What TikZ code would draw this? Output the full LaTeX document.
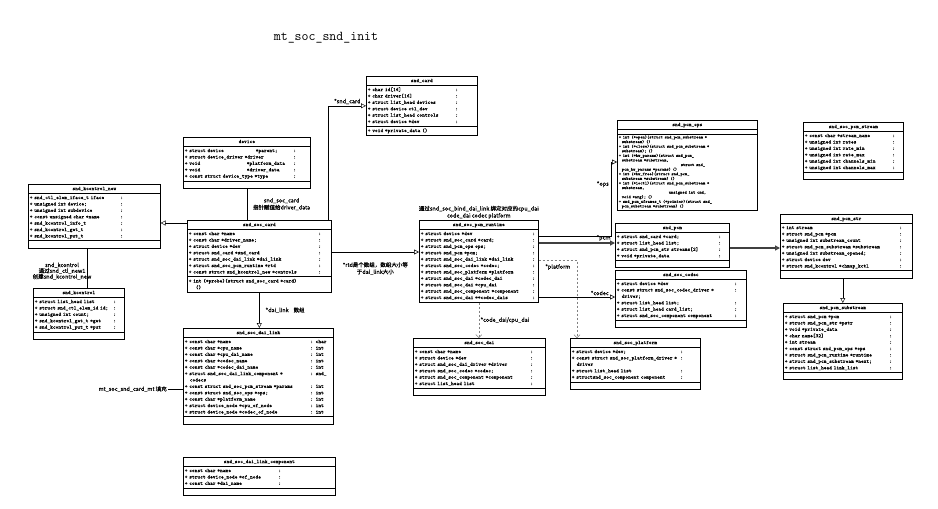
\documentclass[tikz,border=0pt]{standalone}
\usepackage{fontspec}
\usetikzlibrary{positioning,shapes.multipart,arrows.meta,calc}
\newfontfamily\cjk{Noto Sans CJK SC}[FakeBold=0.4]
\newfontfamily\fldtt{lmmono10-regular.otf}[FakeBold=1.2]
\newlength\fldw
\newcommand\fldfont{\fldtt\fontsize{5.2}{6.4}\selectfont}
\newcommand\opsfont{\fldtt\fontsize{4.3}{4.6}\selectfont}
\newcommand\notefont{\cjk\fontsize{5.5}{7}\selectfont}
\newcommand\ttl[1]{\makebox[\linewidth]{\strut#1}\par}
\newcommand\fld[2]{\makebox[\fldw][l]{\strut+ #1}: #2\par}
\newcommand\cont[1]{\strut\hspace*{5pt}#1\par}
\newcommand\op[1]{\strut#1\par}
\newcommand\emp{\rule{0pt}{4.5pt}}
\tikzset{
  cls/.style 2 args={draw, line width=0.6pt, fill=white, rectangle split,
    rectangle split parts=3, anchor=north west, inner xsep=1.5pt,
    inner ysep=1pt, font=\fldfont, text width=#1, align=left,
    /utils/exec={\setlength\fldw{#2}}},
  link/.style={line width=0.5pt},
  tri/.style={link, -{Triangle[open, length=5pt, width=5pt]}},
  barb/.style={link, gray, dash pattern=on 2pt off 2pt, -{Straight Barb[length=3pt, width=6pt]}},
  heavy/.style={line width=1.3pt, black!75},
  note/.style={font=\notefont, text=black, inner sep=0pt, align=center},
}
\begin{document}
\catcode`\_=12
\begin{tikzpicture}[x=1pt, y=-1pt]
  \fill[white] (0,0) rectangle (938,509);
  \useasboundingbox (0,0) rectangle (938,509);

  \node[font=\ttfamily\fontsize{13.5}{14}\selectfont] (title) at (326,38) {mt_soc_snd_init};

  % ---------- classes ----------
  \node[cls={108pt}{87.5pt}] (sndcard) at (366,76) {\ttl{snd_card}
    \nodepart{two}
    \fld{char id[16]}{}
    \fld{char driver[16]}{}
    \fld{struct list_head devices}{}
    \fld{struct device ctl_dev}{}
    \fld{struct list_head controls}{}
    \fld{struct device *dev}{}
    \nodepart{three}
    \op{+ void *private_data ()}};

  \node[cls={124pt}{108.5pt}] (device) at (183,137) {\ttl{device}
    \nodepart{two}
    \fld{\makebox[66.5pt][l]{struct device}*parent;}{}
    \fld{struct device_driver *driver}{}
    \fld{\makebox[57.5pt][l]{void}*platform_data}{}
    \fld{\makebox[57.5pt][l]{void}*driver_data}{}
    \fld{const struct device_type *type}{}
    \nodepart{three}\emp};

  \node[cls={141pt}{129.5pt}] (soccard) at (187,220) {\ttl{snd_soc_card}
    \nodepart{two}
    \fld{const char *name}{}
    \fld{const char *driver_name;}{}
    \fld{struct device *dev}{}
    \fld{struct snd_card *snd_card}{}
    \fld{struct snd_soc_dai_link *dai_link}{}
    \fld{struct snd_soc_pcm_runtime *rtd}{}
    \fld{const struct snd_kcontrol_new *controls}{}
    \nodepart{three}
    \op{+ int (*probe)(struct snd_soc_card *card)}
    \op{\hspace*{7pt}()}};

  \node[cls={129pt}{90.5pt}] (ctlnew) at (28,184) {\ttl{snd_kcontrol_new}
    \nodepart{two}
    \fld{snd_ctl_elem_iface_t iface}{}
    \fld{unsigned int device;}{}
    \fld{unsigned int subdevice}{}
    \fld{const unsigned char *name}{}
    \fld{snd_kcontrol_info_t}{}
    \fld{snd_kcontrol_get_t}{}
    \fld{snd_kcontrol_put_t}{}
    \nodepart{three}\emp};

  \node[cls={88pt}{78.5pt}] (kctl) at (33,288) {\ttl{snd_kcontrol}
    \nodepart{two}
    \fld{struct list_head list}{}
    \fld{struct snd_ctl_elem_id id;}{}
    \fld{unsigned int count;}{}
    \fld{snd_kcontrol_get_t *get}{}
    \fld{snd_kcontrol_put_t *put}{}
    \nodepart{three}\emp};

  \node[cls={147pt}{125.5pt}] (dailink) at (183,328) {\ttl{snd_soc_dai_link}
    \nodepart{two}
    \fld{const char *name}{char}
    \fld{const char *cpu_name}{int}
    \fld{const char *cpu_dai_name}{int}
    \fld{const char *codec_name}{int}
    \fld{const char *codec_dai_name}{int}
    \fld{struct snd_soc_dai_link_component *}{snd_}
    \cont{codecs}
    \fld{const struct snd_soc_pcm_stream *params}{int}
    \fld{const struct snd_soc_ops *ops;}{int}
    \fld{const char *platform_name}{int}
    \fld{struct device_node *cpu_of_node}{int}
    \fld{struct device_node *codec_of_node}{int}
    \nodepart{three}\emp};

  \node[cls={149pt}{93.5pt}] (linkcomp) at (183,457) {\ttl{snd_soc_dai_link_component}
    \nodepart{two}
    \fld{const char *name}{}
    \fld{struct device_node *of_node}{}
    \fld{const char *dai_name}{}
    \nodepart{three}\emp};

  \node[cls={116pt}{111.5pt}, rectangle split parts=2] (runtime) at (419,220) {\ttl{snd_soc_pcm_runtime}
    \nodepart{two}
    \fld{struct device *dev}{}
    \fld{struct snd_soc_card *card;}{}
    \fld{struct snd_pcm_ops ops;}{}
    \fld{struct snd_pcm *pcm;}{}
    \fld{struct snd_soc_dai_link *dai_link}{}
    \fld{struct snd_soc_codec *codec;}{}
    \fld{struct snd_soc_platform *platform}{}
    \fld{struct snd_soc_dai *codec_dai}{}
    \fld{struct snd_soc_dai *cpu_dai}{}
    \fld{struct snd_soc_component *component}{}
    \fld{struct snd_soc_dai **codec_dais}{}};

  \node[cls={137pt}{0pt}] (ops) at (617,120) {\ttl{snd_pcm_ops}
    \nodepart{two}\rule{0pt}{2pt}
    \nodepart{three}\opsfont
    \op{+ int (*open)(struct snd_pcm_substream *}
    \op{\hspace*{3pt}substream) ()}
    \op{+ int (*close)(struct snd_pcm_substream *}
    \op{\hspace*{3pt}substream); ()}
    \op{+ int (*hw_params)(struct snd_pcm_}
    \op{\hspace*{3pt}substream *substream,}
    \op{\hspace*{62pt}struct snd_}
    \op{\hspace*{3pt}pcm_hw_params *params) ()}
    \op{+ int (*hw_free)(struct snd_pcm_}
    \op{\hspace*{3pt}substream *substream) ()}
    \op{+ int (*ioctl)(struct snd_pcm_substream *}
    \op{\hspace*{3pt}substream,}
    \op{\hspace*{50pt}unsigned int cmd,}
    \op{\hspace*{3pt}void *arg); ()}
    \op{+ snd_pcm_uframes_t (*pointer)(struct snd_}
    \op{\hspace*{3pt}pcm_substream *substream) ()}};

  \node[cls={111pt}{101.5pt}] (pcm) at (615,223) {\ttl{snd_pcm}
    \nodepart{two}
    \fld{struct snd_card *card;}{}
    \fld{struct list_head list;}{}
    \fld{struct snd_pcm_str streams[2]}{}
    \fld{void *private_data}{}
    \nodepart{three}\emp};

  \node[cls={128pt}{117.5pt}] (codec) at (615,270) {\ttl{snd_soc_codec}
    \nodepart{two}
    \fld{struct device *dev}{}
    \fld{const struct snd_soc_codec_driver *}{}
    \cont{driver;}
    \fld{struct list_head list;}{}
    \fld{struct list_head card_list;}{}
    \fld{struct snd_soc_component component}{}
    \nodepart{three}\emp};

  \node[cls={129pt}{115.5pt}] (dai) at (413,338) {\ttl{snd_soc_dai}
    \nodepart{two}
    \fld{const char *name}{}
    \fld{struct device *dev}{}
    \fld{struct snd_soc_dai_driver *driver}{}
    \fld{struct snd_soc_codec *codec;}{}
    \fld{struct snd_soc_component *component}{}
    \fld{struct list_head list}{}
    \nodepart{three}\emp};

  \node[cls={127pt}{108.5pt}] (platform) at (570,338) {\ttl{snd_soc_platform}
    \nodepart{two}
    \fld{struct device *dev;}{}
    \fld{const struct snd_soc_platform_driver *}{}
    \cont{driver}
    \fld{struct list_head list}{}
    \fld{structsnd_soc_component component}{}
    \nodepart{three}\emp};

  \node[cls={97pt}{87.5pt}] (pcmstream) at (803,122) {\ttl{snd_soc_pcm_stream}
    \nodepart{two}
    \fld{const char *stream_name}{}
    \fld{unsigned int rates}{}
    \fld{unsigned int rate_min}{}
    \fld{unsigned int rate_max}{}
    \fld{unsigned int channels_min}{}
    \fld{unsigned int channels_max}{}
    \nodepart{three}\emp};

  \node[cls={129pt}{117.5pt}] (pcmstr) at (780,214) {\ttl{snd_pcm_str}
    \nodepart{two}
    \fld{int stream}{}
    \fld{struct snd_pcm *pcm}{}
    \fld{unsigned int substream_count}{}
    \fld{struct snd_pcm_substream *substream}{}
    \fld{unsigned int substream_opened;}{}
    \fld{struct device dev}{}
    \fld{struct snd_kcontrol *chmap_kctl}{}
    \nodepart{three}\emp};

  \node[cls={116pt}{104.5pt}] (substream) at (783,303) {\ttl{snd_pcm_substream}
    \nodepart{two}
    \fld{struct snd_pcm *pcm}{}
    \fld{struct snd_pcm_str *pstr}{}
    \fld{void *private_data}{}
    \fld{char name[32]}{}
    \fld{int stream}{}
    \fld{const struct snd_pcm_ops *ops}{}
    \fld{struct snd_pcm_runtime *runtime}{}
    \fld{struct snd_pcm_substream *next;}{}
    \fld{struct list_head link_list}{}
    \nodepart{three}\emp};

  % ---------- connectors ----------
  \draw[tri] ($(soccard.north east)+(-3,0)$) |- (sndcard.west)
    node[note, pos=0.75, above=1.5pt] {*snd_card};
  \draw[link] (device.south) -- (device.south |- soccard.north)
    node[note, midway, right=6pt] {snd_soc_card\\指针赋值给driver_data};
  \coordinate (ctlin) at ($(soccard.north west)+(0,3)$);
  \draw[tri] (ctlin) -- (ctlin -| ctlnew.east);
  \coordinate (kctltop) at ($(ctlnew.south west)+(59,0)$);
  \draw[link] (kctltop) -- (kctltop |- kctl.north)
    node[note, midway, xshift=-25pt, yshift=-3pt, font=\cjk\fontsize{5.5}{5.8}\selectfont]
    {snd_kcontrol\\通过snd_ctl_new1\\创建snd_kcontrol_new};
  \draw[tri] (soccard.south) -- (soccard.south |- dailink.north)
    node[note, midway, right=6pt] {*dai_link\hspace{5pt}数组};
  \coordinate (fillpt) at ($(dailink.north west)+(-15,61)$);
  \draw[link] (dailink.west |- fillpt) -- (fillpt)
    node[note, left=1pt] {mt_soc_snd_card_mt 填充};
  \coordinate (rtdout) at ($(soccard.north east)+(0,32)$);
  \draw[tri] (rtdout) -- (rtdout -| runtime.west)
    node[note, midway, below=10pt] {*rtd是个数组，数组大小等\\于dai_link大小};
  \node[note, above=1pt of runtime] (bindnote)
    {通过snd_soc_bind_dai_link 绑定对应的cpu_dai\\code_dai codec platform};

  \coordinate (opsout) at ($(runtime.north east)+(0,16)$);
  \coordinate (opsin) at ($(ops.north west)+(0,42)$);
  \draw[tri] (opsout) -| ($(opsin)+(-6,0)$)
    node[note, pos=0.85, left=2pt] {*ops} -- (opsin);
  \coordinate (pcmout) at ($(runtime.north east)+(0,23)$);
  \draw[tri, heavy] (pcmout) -- (pcmout -| pcm.west)
    node[note, pos=0.85, above=1.5pt] {*pcm};
  \coordinate (strin) at ($(pcm.north east)+(0,25)$);
  \draw[tri, heavy] (strin) -- (strin -| pcmstr.west);
  \draw[tri] (substream.north |- pcmstr.south) -- (substream.north);

  \draw[barb] (runtime.south) -- (runtime.south |- dai.north)
    node[note, midway, right=1.5pt] {*code_dai/cpu_dai};
  \coordinate (platout) at ($(runtime.north east)+(0,40)$);
  \draw[barb] (platout) -| ($(platform.north west)+(7,0)$)
    node[note, pos=0.25, below=4pt] {*platform};
  \coordinate (codecout) at ($(runtime.north east)+(0,77)$);
  \draw[tri] (codecout) -- (codecout -| codec.west)
    node[note, pos=0.8, above=1.5pt] {*codec};
\end{tikzpicture}
\end{document}
